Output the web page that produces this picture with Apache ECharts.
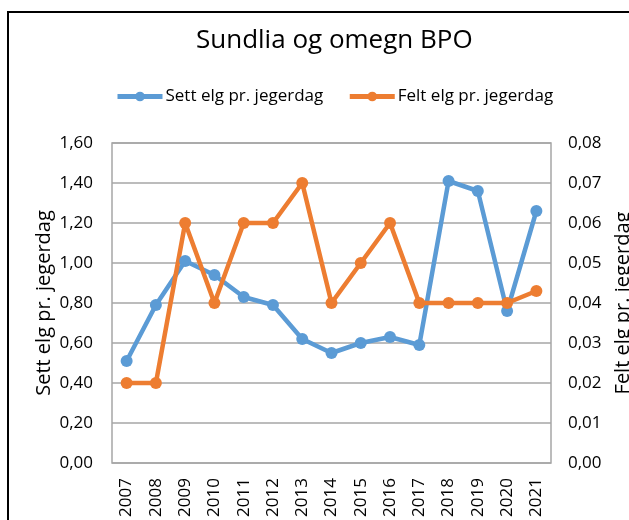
<!DOCTYPE html>
<html><head><meta charset="utf-8">
<script src="https://cdn.jsdelivr.net/npm/echarts@6/dist/echarts.min.js"></script>
<style>html,body{margin:0;padding:0;background:#fff}#c{width:629px;height:520px}</style>
</head><body><div id="c"></div>
<script>
const years = ['2007','2008','2009','2010','2011','2012','2013','2014','2015','2016','2017','2018','2019','2020','2021'];
const sett = [0.51,0.79,1.01,0.94,0.83,0.79,0.62,0.55,0.60,0.63,0.59,1.41,1.36,0.76,1.26];
const felt = [0.02,0.02,0.06,0.04,0.06,0.06,0.07,0.04,0.05,0.06,0.04,0.04,0.04,0.04,0.043];
const leftTicks = {min:0,max:1.6,interval:0.2};
const rightTicks = {min:0,max:0.08,interval:0.01};
const FONT = 'Open Sans';
const chart = echarts.init(document.getElementById('c'));
const fmt = d => v => v.toFixed(d).replace('.', ',');
chart.setOption({
  animation:false,
  textStyle:{fontFamily:FONT,color:'#000'},
  title:{text:'Sundlia og omegn BPO',left:191,top:23,textStyle:{fontFamily:FONT,fontSize:26,fontWeight:'normal',color:'#000'}},
  legend:{top:88,left:115,padding:0,itemGap:24,itemWidth:45,itemHeight:12,
    lineStyle:{width:5},
    textStyle:{fontFamily:FONT,fontSize:17,color:'#000',padding:[0,0,0,-2]},
    data:['Sett elg pr. jegerdag','Felt elg pr. jegerdag']},
  graphic:[{type:'rect',shape:{x:8,y:12,width:700,height:600},style:{fill:'none',stroke:'#000',lineWidth:2},silent:true}],
  grid:{left:112,right:78,top:143,bottom:57,show:true,borderColor:'#a6a6a6',borderWidth:1.5,
    containLabel:false,outerBoundsMode:'none'},
  xAxis:{type:'category',data:years,boundaryGap:true,axisTick:{show:false},axisLine:{show:false},
    axisLabel:{rotate:90,fontFamily:FONT,fontSize:17,color:'#000',margin:15}},
  yAxis:[
    {type:'value',min:leftTicks.min,max:leftTicks.max,interval:leftTicks.interval,position:'left',
     name:'Sett elg pr. jegerdag',nameLocation:'middle',nameRotate:90,nameGap:58,nameMoveOverlap:false,
     nameTextStyle:{fontFamily:FONT,fontSize:20,color:'#000'},
     axisLabel:{formatter:fmt(2),fontFamily:FONT,fontSize:17,color:'#000',margin:19},
     axisLine:{show:false},axisTick:{show:false},splitLine:{lineStyle:{color:'#a6a6a6',width:1.5}}},
    {type:'value',min:rightTicks.min,max:rightTicks.max,interval:rightTicks.interval,position:'right',
     name:'Felt elg pr. jegerdag',nameLocation:'middle',nameRotate:90,nameGap:62,nameMoveOverlap:false,
     nameTextStyle:{fontFamily:FONT,fontSize:20,color:'#000'},
     axisLabel:{formatter:fmt(2),fontFamily:FONT,fontSize:17,color:'#000',margin:17},
     axisLine:{show:false},axisTick:{show:false},splitLine:{show:false}}
  ],
  series:[
    {name:'Sett elg pr. jegerdag',type:'line',yAxisIndex:0,data:sett,symbol:'circle',symbolSize:12,
     lineStyle:{color:'#5b9bd5',width:4.5},itemStyle:{color:'#5b9bd5'}},
    {name:'Felt elg pr. jegerdag',type:'line',yAxisIndex:1,data:felt,symbol:'circle',symbolSize:12,
     lineStyle:{color:'#ed7d31',width:4.5},itemStyle:{color:'#ed7d31'}}
  ]
});
</script></body></html>
